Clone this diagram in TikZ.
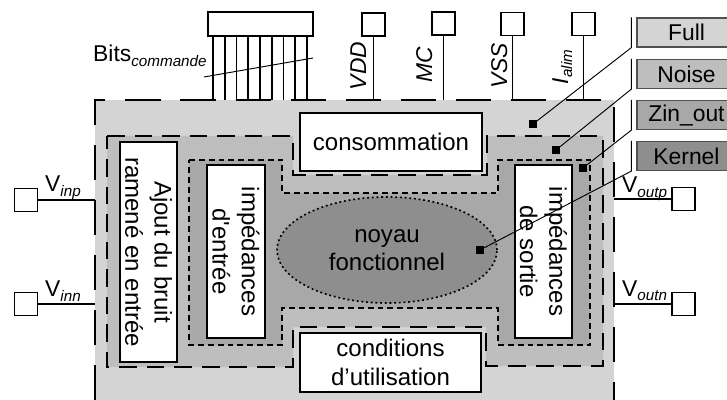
\documentclass[tikz,border=0pt]{standalone}
\usepackage{fontspec}
\setmainfont{Liberation Sans}
\usetikzlibrary{shapes.geometric}
\definecolor{fullgray}{HTML}{D4D4D4}
\definecolor{noisegray}{HTML}{BEBEBE}
\definecolor{zingray}{HTML}{A8A8A8}
\definecolor{kerngray}{HTML}{8E8E8E}
\definecolor{keyline}{HTML}{505050}
\newcommand{\lowsub}[1]{\raisebox{-3.5pt}{\fontsize{13}{15}\selectfont\itshape #1}}
\tikzset{
  blockbox/.style={draw=black,fill=white,line width=1.6pt,inner sep=0pt,align=center,font=\fontsize{20.5}{25}\selectfont},
  sidebox/.style={blockbox,rotate=-90,minimum height=1.71cm},
  padbox/.style={draw=black,fill=white,line width=1.5pt,minimum size=0.69cm,inner sep=0pt},
  wire/.style={draw=black,line width=1.5pt},
  pinname/.style={font=\fontsize{19.5}{22}\selectfont,inner sep=0pt},
  keybox/.style={draw=keyline,line width=1pt,minimum width=2.97cm,minimum height=0.87cm,inner sep=0pt,font=\fontsize{19.5}{22}\selectfont},
  keydot/.style={fill=black,minimum size=0.24cm,inner sep=0pt},
  leader/.style={draw=black,line width=0.8pt},
  fullline/.style={dash pattern=on 30pt off 17pt,line width=1.7pt},
  noiseline/.style={dash pattern=on 15pt off 8.5pt,line width=1.7pt},
  zinline/.style={dash pattern=on 5pt off 3.4pt,line width=1.7pt},
  kernline/.style={dash pattern=on 1.6pt off 2.4pt,line width=1.4pt}
}
\begin{document}
\begin{tikzpicture}[x=0.03cm,y=-0.03cm]
\useasboundingbox (0,0) rectangle (727,400);
\fill[fullgray] (95,100) rectangle (614,400);
\draw[fullline] (95,400)--(95,100)--(614,100)--(614,400);
\draw[noiseline,fill=noisegray] (107,136)--(293,136)--(293,175)--(487,175)--(487,136)--(603,136)--(603,366)--(486,366)--(486,327)--(293,327)--(293,367)--(107,367)--cycle;
\draw[zinline,fill=zingray] (189,160)--(282,160)--(282,193)--(498,193)--(498,160)--(590,160)--(590,345)--(498,345)--(498,308)--(282,308)--(282,345)--(189,345)--cycle;
\node[ellipse,draw=black,kernline,fill=kerngray,minimum width=6.6cm,minimum height=3.18cm,inner sep=0pt,align=center,font=\fontsize{20.5}{24}\selectfont] (noyau) at (387,250) {noyau\\fonctionnel};
\node[blockbox,minimum width=5.46cm,minimum height=1.74cm] (conso) at (391,142) {consommation};
\node[blockbox,minimum width=5.43cm,minimum height=1.77cm] (cond) at (390.5,362.5) {conditions\\d’utilisation};
\node[sidebox,minimum width=6.6cm] (bruit) at (148.5,252) {Ajout du bruit\\ramené en entrée};
\node[sidebox,minimum width=5.19cm,minimum height=1.74cm] (zin) at (236,251.5) {impédances\\d\textquotesingle entrée};
\node[sidebox,minimum width=5.19cm] (zout) at (543.5,251.5) {impédances\\de sortie};
\node[draw=black,fill=white,line width=1.5pt,minimum width=3.15cm,minimum height=0.72cm,inner sep=0pt] (bitsbox) at (260.5,24) {};
\foreach \x in {213,224.75,...,307} \draw[wire] (\x,36)--(\x,100);
\coordinate (slashA) at (204,77); \coordinate (slashB) at (313,58);
\draw[leader] (slashA)--(slashB);
\node[pinname,anchor=base west] (bitsname) at (93,62) {Bits\lowsub{commande}};
\node[padbox] (vdd) at (373.5,24.5) {}; \node[padbox] (mc) at (443.5,23.5) {}; \node[padbox] (vss) at (512.5,24) {}; \node[padbox] (ialim) at (583.5,24) {};
\coordinate (vddin) at (373.5,100); \coordinate (mcin) at (443.5,100); \coordinate (vssin) at (512.5,100); \coordinate (ialimin) at (583.5,100);
\draw[wire] (vdd)--(vddin); \draw[wire] (mc)--(mcin); \draw[wire] (vss)--(vssin); \draw[wire] (ialim)--(ialimin);
\node[pinname,rotate=90,anchor=base] (vddname) at (366,66) {\textit{VDD}};
\node[pinname,rotate=90,anchor=base] (mcname) at (432,65) {\textit{MC}};
\node[pinname,rotate=90,anchor=base] (vssname) at (507,66) {\textit{VSS}};
\node[pinname,rotate=90,anchor=base] (ialimname) at (568,67) {\textit{I}\lowsub{alim}};
\node[padbox] (vinp) at (26,200) {}; \coordinate (vinpin) at (95,200); \draw[wire] (vinp)--(vinpin);
\node[pinname,anchor=base west] (vinpname) at (45,192) {V\lowsub{inp}};
\node[padbox] (vinn) at (26,304) {}; \coordinate (vinnin) at (95,304); \draw[wire] (vinn)--(vinnin);
\node[pinname,anchor=base west] (vinnname) at (45,297) {V\lowsub{inn}};
\node[padbox] (voutp) at (683.5,199) {}; \coordinate (voutpin) at (614,199); \draw[wire] (voutpin)--(voutp);
\node[pinname,anchor=base west] (voutpname) at (622,193) {V\lowsub{outp}};
\node[padbox] (voutn) at (683.5,304) {}; \coordinate (voutnin) at (614,304); \draw[wire] (voutnin)--(voutn);
\node[pinname,anchor=base west] (voutnname) at (622,296) {V\lowsub{outn}};
\node[keybox,fill=fullgray] (fullkey) at (686.5,32.5) {Full};
\node[keybox,fill=noisegray] (noisekey) at (686.5,74) {Noise};
\node[keybox,fill=zingray] (zinkey) at (686.5,115) {Zin\_out};
\node[keybox,fill=kerngray] (kernkey) at (686.5,156) {Kernel};
\node[keydot] (fulldot) at (533,124) {}; \node[keydot] (noisedot) at (556,150) {}; \node[keydot] (zindot) at (583,168) {}; \node[keydot] (kerndot) at (480,250) {};
\draw[leader] ([xshift=-0.15cm]fullkey.north west)--([xshift=-0.15cm]fullkey.south west)--(fulldot);
\draw[leader] ([xshift=-0.15cm]noisekey.north west)--([xshift=-0.15cm]noisekey.south west)--(noisedot);
\draw[leader] ([xshift=-0.15cm]zinkey.north west)--([xshift=-0.15cm]zinkey.south west)--(zindot);
\draw[leader] ([xshift=-0.15cm]kernkey.north west)--([xshift=-0.15cm]kernkey.south west)--(kerndot);
\end{tikzpicture}
\end{document}
